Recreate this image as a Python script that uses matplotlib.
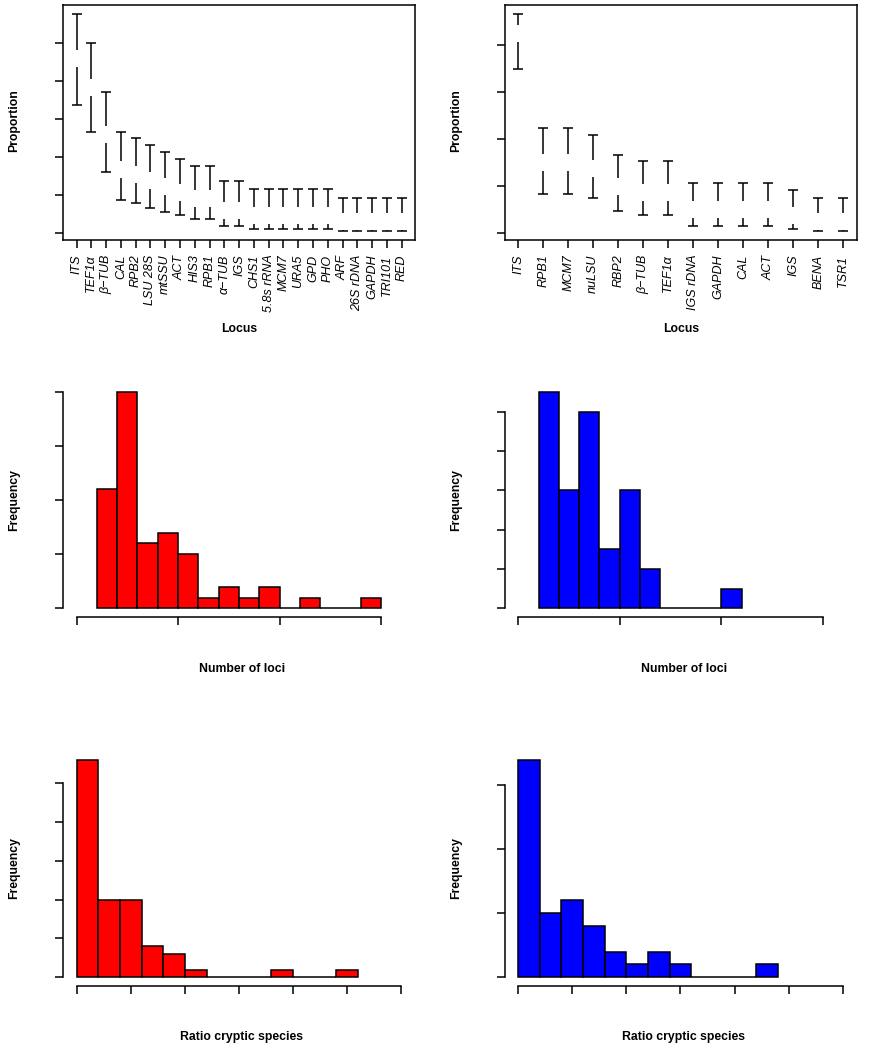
import numpy as np
import matplotlib.pyplot as plt

plt.rcParams['font.family'] = ['Liberation Sans', 'DejaVu Sans']

# proportion of studies per locus (estimate, lower, upper) - left column
loci_a = ['ITS', 'TEF1α', 'β\u2212TUB', 'CAL', 'RPB2', 'LSU 28S', 'mtSSU', 'ACT',
          'HIS3', 'RPB1', 'α\u2212TUB', 'IGS', 'CHS1', '5.8s rRNA', 'MCM7', 'URA5',
          'GPD', 'PHO', 'ARF', '26S rDNA', 'GAPDH', 'TRI101', 'RED']
est_a = [0.460, 0.383, 0.260, 0.168, 0.154, 0.138, 0.123, 0.108, 0.092, 0.092,
         0.061, 0.061, 0.046, 0.046, 0.046, 0.046, 0.046, 0.046,
         0.031, 0.031, 0.031, 0.031, 0.031]
lo_a = [0.337, 0.267, 0.161, 0.089, 0.079, 0.068, 0.057, 0.047, 0.037, 0.037,
        0.019, 0.019, 0.011, 0.011, 0.011, 0.011, 0.011, 0.011,
        0.006, 0.006, 0.006, 0.006, 0.006]
hi_a = [0.576, 0.500, 0.372, 0.268, 0.252, 0.232, 0.214, 0.195, 0.177, 0.177,
        0.137, 0.137, 0.116, 0.116, 0.116, 0.116, 0.116, 0.116,
        0.094, 0.094, 0.094, 0.094, 0.094]

# right column
loci_b = ['ITS', 'RPB1', 'MCM7', 'nuLSU', 'RBP2', 'β\u2212TUB', 'TEF1α', 'IGS rDNA',
          'GAPDH', 'CAL', 'ACT', 'IGS', 'BENA', 'TSR1']
est_b = [0.4255, 0.150, 0.150, 0.137, 0.099, 0.087, 0.087, 0.050, 0.050, 0.050,
         0.050, 0.037, 0.025, 0.025]
lo_b = [0.348, 0.084, 0.084, 0.074, 0.047, 0.038, 0.038, 0.016, 0.016, 0.016,
        0.016, 0.009, 0.005, 0.005]
hi_b = [0.466, 0.223, 0.223, 0.208, 0.167, 0.153, 0.153, 0.107, 0.107, 0.107,
        0.107, 0.091, 0.074, 0.074]

# number of loci histograms
loci_edges_a = [2, 4, 6, 8, 10, 12, 14, 16, 18, 20, 22, 24, 26, 28, 30]
loci_counts_a = [11, 20, 6, 7, 5, 1, 2, 1, 2, 0, 1, 0, 0, 1]
loci_edges_b = [2, 4, 6, 8, 10, 12, 14, 16, 18, 20, 22]
loci_counts_b = [11, 6, 10, 3, 6, 2, 0, 0, 0, 1]

# ratio cryptic species histograms
ratio_edges_a = [0, 0.2, 0.4, 0.6, 0.8, 1.0, 1.2, 1.4, 1.6, 1.8, 2.0, 2.2, 2.4, 2.6]
ratio_counts_a = [28, 10, 10, 4, 3, 1, 0, 0, 0, 1, 0, 0, 1]
ratio_edges_b = [0, 0.2, 0.4, 0.6, 0.8, 1.0, 1.2, 1.4, 1.6, 1.8, 2.0, 2.2, 2.4]
ratio_counts_b = [17, 5, 6, 4, 2, 1, 2, 1, 0, 0, 0, 1]

W, H = 870, 1050
LW = 1.1
fig = plt.figure(figsize=(W / 100, H / 100), dpi=100)


def add_ax(left, top, right, bottom):
    return fig.add_axes([left / W, 1 - bottom / H, (right - left) / W, (bottom - top) / H])


def label(x, y, s, rot=0):
    fig.text(x / W, 1 - y / H, s, rotation=rot, ha='center', va='center',
             fontsize=8.8, fontweight='bold')


def ci_panel(ax, labels, est, lo, hi, xlim, ylim, yticks):
    x = np.arange(1, len(labels) + 1)
    est, lo, hi = np.asarray(est), np.asarray(lo), np.asarray(hi)
    ax.set_xlim(*xlim)
    ax.set_ylim(*ylim)
    h_px = ax.get_position().height * H
    g = 8.5 * (ylim[1] - ylim[0]) / h_px
    ax.vlines(x, np.minimum(est + g, hi), hi, color='black', lw=LW)
    ax.vlines(x, lo, np.maximum(est - g, lo), color='black', lw=LW)
    for v in (lo, hi):
        ax.plot(x, v, ls='none', marker='_', ms=7.2, mew=LW, color='black')
    ax.set_yticks(yticks)
    ax.set_yticklabels([])
    ax.set_xticks(x)
    ax.set_xticklabels(labels, rotation=90, fontstyle='italic', fontsize=9)
    ax.tick_params(direction='out', length=5.5, width=LW, pad=5)
    for sp in ax.spines.values():
        sp.set_linewidth(LW)


def hist_panel(ax, edges, counts, color, xlim, xticks, ylim, yticks):
    ax.bar(edges[:-1], counts, width=np.diff(edges), align='edge',
           color=color, edgecolor='black', lw=LW)
    ax.set_xlim(*xlim)
    ax.set_ylim(*ylim)
    ax.set_xticks(xticks)
    ax.set_yticks(yticks)
    ax.set_xticklabels([])
    ax.set_yticklabels([])
    ax.tick_params(direction='out', length=5.5, width=LW)
    ax.spines['top'].set_visible(False)
    ax.spines['right'].set_visible(False)
    ax.spines['left'].set_bounds(yticks[0], yticks[-1])
    ax.spines['bottom'].set_bounds(xticks[0], xticks[-1])
    for sp in ax.spines.values():
        sp.set_linewidth(LW)


cols = [(63, 415), (505, 857)]

# row 1: proportions
ax = add_ax(cols[0][0], 5, cols[0][1], 240)
ci_panel(ax, loci_a, est_a, lo_a, hi_a, (0.08, 23.9), (-0.0175, 0.601),
         [0, 0.1, 0.2, 0.3, 0.4, 0.5])
ax = add_ax(cols[1][0], 5, cols[1][1], 240)
ci_panel(ax, loci_b, est_b, lo_b, hi_b, (0.47, 14.55), (-0.0142, 0.485),
         [0, 0.1, 0.2, 0.3, 0.4])

# row 2: number of loci
ax = add_ax(cols[0][0], 383.5, cols[0][1], 617)
hist_panel(ax, loci_edges_a, loci_counts_a, '#ff0000', (-1.33, 33.33), [0, 10, 20, 30],
           (-0.8, 20.8), [0, 5, 10, 15, 20])
ax = add_ax(cols[1][0], 383.5, cols[1][1], 617)
hist_panel(ax, loci_edges_b, loci_counts_b, '#0000ff', (-1.3, 33.35), [0, 10, 20, 30],
           (-0.44, 11.44), [0, 2, 4, 6, 8, 10])

# row 3: ratio cryptic species
ax = add_ax(cols[0][0], 751, cols[0][1], 986)
hist_panel(ax, ratio_edges_a, ratio_counts_a, '#ff0000', (-0.125, 3.125),
           [0, 0.5, 1, 1.5, 2, 2.5, 3], (-1.12, 29.12), [0, 5, 10, 15, 20, 25])
ax = add_ax(cols[1][0], 751, cols[1][1], 986)
hist_panel(ax, ratio_edges_b, ratio_counts_b, '#0000ff', (-0.12, 3.13),
           [0, 0.5, 1, 1.5, 2, 2.5, 3], (-0.68, 17.68), [0, 5, 10, 15])

for (l, r) in cols:
    cx = (l + r) / 2
    label(l - 49, 121, 'Proportion', 90)
    label(cx, 329, 'Locus')
    label(l - 49, 500, 'Frequency', 90)
    label(cx + 3, 669, 'Number of loci')
    label(l - 49, 868, 'Frequency', 90)
    label(cx + 3, 1037, 'Ratio cryptic species')

fig.savefig('out.png', dpi=100)
